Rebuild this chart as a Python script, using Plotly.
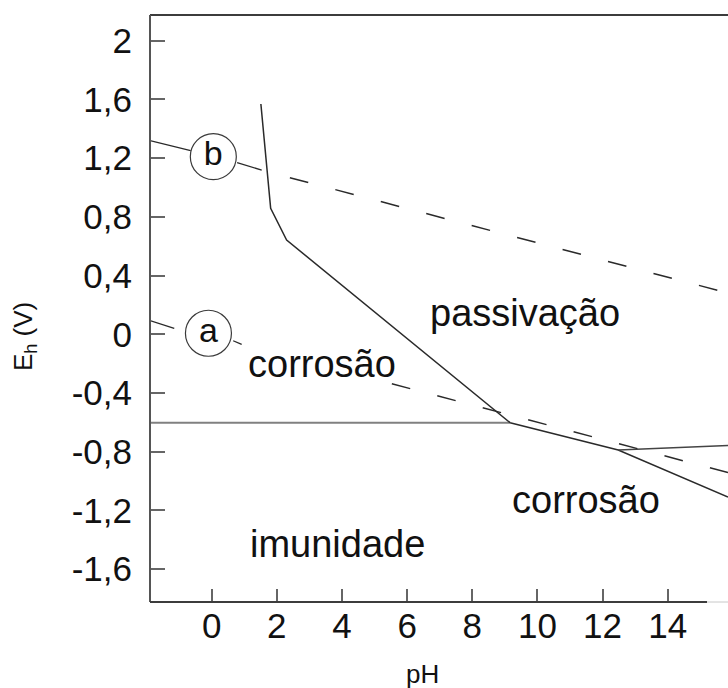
import plotly.graph_objects as go

# Pourbaix (E-pH) diagram for iron
# Axis ticks
x_ticks = [0, 2, 4, 6, 8, 10, 12, 14]
y_ticks = [2, 1.6, 1.2, 0.8, 0.4, 0, -0.4, -0.8, -1.2, -1.6]
y_tick_text = ["2", "1,6", "1,2", "0,8", "0,4", "0", "-0,4", "-0,8", "-1,2", "-1,6"]

# Stability boundaries (pH, E in V)
fe_fe2_ph = [-1.894, 9.16]
fe_fe2_e = [-0.602, -0.602]
passive_ph = [1.51, 1.81, 2.30, 9.16]
passive_e = [1.569, 0.858, 0.642, -0.602]
lower_ph = [9.16, 12.48, 15.85]
lower_e = [-0.602, -0.788, -1.108]
upper_ph = [12.48, 15.85]
upper_e = [-0.788, -0.757]

# Water line (a): hydrogen evolution
a_solid1_ph = [-1.894, -1.15]
a_solid1_e = [0.093, 0.041]
a_solid2_ph = [0.66, 0.92]
a_solid2_e = [-0.044, -0.068]
a_dash_ph = [5.53, 15.85]
a_dash_e = [-0.337, -0.942]

# Water line (b): oxygen evolution
b_solid1_ph = [-1.894, -0.645]
b_solid1_e = [1.319, 1.251]
b_solid2_ph = [0.78, 1.535]
b_solid2_e = [1.169, 1.119]
b_dash_ph = [2.40, 15.85]
b_dash_e = [1.067, 0.281]

# Circled line labels
circle_labels = ["a", "b"]
circle_ph = [-0.10, 0.05]
circle_e = [0.007, 1.21]

# Region labels
region_text = ["passivação", "corrosão", "corrosão", "imunidade"]
region_ph = [9.62, 3.39, 11.49, 3.86]
region_e = [0.145, -0.202, -1.129, -1.428]

FONT = "Liberation Sans, Arial, sans-serif"
DARK = "#2a2a2a"

fig = go.Figure()

def seg(xs, ys, color=DARK, width=1.5, dash="solid"):
    fig.add_trace(go.Scatter(x=xs, y=ys, mode="lines",
                             line=dict(color=color, width=width, dash=dash),
                             hoverinfo="skip", showlegend=False))

seg(fe_fe2_ph, fe_fe2_e, color="#808080", width=2)
seg(passive_ph, passive_e)
seg(lower_ph, lower_e)
seg(upper_ph, upper_e, color="#444444")

dash_style = "19px,28px"
for xs, ys in [(a_solid1_ph, a_solid1_e), (a_solid2_ph, a_solid2_e),
               (b_solid1_ph, b_solid1_e), (b_solid2_ph, b_solid2_e)]:
    seg(xs, ys, width=1.3)
seg(a_dash_ph, a_dash_e, width=1.5, dash=dash_style)
seg(b_dash_ph, b_dash_e, width=1.5, dash=dash_style)

# circles with letters
fig.add_trace(go.Scatter(
    x=circle_ph, y=circle_e, mode="markers+text",
    marker=dict(symbol="circle", size=46, color="white",
                line=dict(color="#3a3a3a", width=1.2)),
    text=circle_labels, textposition="middle center",
    textfont=dict(family=FONT, size=34, color="#111111"),
    hoverinfo="skip", showlegend=False))

for t, xv, yv in zip(region_text, region_ph, region_e):
    fig.add_annotation(x=xv, y=yv, xref="x", yref="y", text=t,
                       showarrow=False, xanchor="center", yanchor="middle",
                       font=dict(family=FONT, size=38, color="#111111"))

# axis titles
fig.add_annotation(x=0.4723, y=-0.1227, xref="paper", yref="paper", text="pH",
                   showarrow=False, xanchor="center", yanchor="middle",
                   font=dict(family=FONT, size=26, color="#111111"))
fig.add_annotation(x=-0.218, y=0.453, xref="paper", yref="paper",
                   text="E<sub>h</sub> (V)", textangle=-90,
                   showarrow=False, xanchor="center", yanchor="middle",
                   font=dict(family=FONT, size=26, color="#111111"))

# frame lines
fig.add_shape(type="line", xref="paper", yref="paper", x0=0, x1=1, y0=1, y1=1,
              line=dict(color="#3c3c3c", width=2))
fig.add_shape(type="line", xref="paper", yref="paper", x0=0, x1=0, y0=0, y1=1,
              line=dict(color="#555555", width=2))
fig.add_shape(type="line", xref="paper", yref="paper", x0=0, x1=0.9637, y0=0, y1=0,
              line=dict(color="#3c3c3c", width=2))
fig.add_shape(type="line", xref="paper", yref="paper", x0=0.9637, x1=1, y0=0, y1=0,
              line=dict(color="#c8c8c8", width=1))

fig.update_layout(
    width=728, height=688,
    margin=dict(l=150, r=0, t=15, b=86),
    paper_bgcolor="white", plot_bgcolor="white",
    font=dict(family=FONT, color="#111111"),
    showlegend=False,
)
fig.update_xaxes(range=[-1.894, 15.85], tickvals=x_ticks,
                 ticktext=[str(v) for v in x_ticks],
                 ticks="inside", ticklen=13, tickwidth=2, tickcolor="#666666",
                 tickfont=dict(family=FONT, size=35, color="#111111"),
                 showgrid=False, zeroline=False, showline=False)
fig.update_yaxes(range=[-1.8236, 2.175], tickvals=y_ticks, ticktext=y_tick_text,
                 ticks="inside", ticklen=15, tickwidth=2, tickcolor="#666666",
                 tickfont=dict(family=FONT, size=35, color="#111111"),
                 showgrid=False, zeroline=False, showline=False,
                 ticklabelstandoff=17)

fig.write_html("out.html")
